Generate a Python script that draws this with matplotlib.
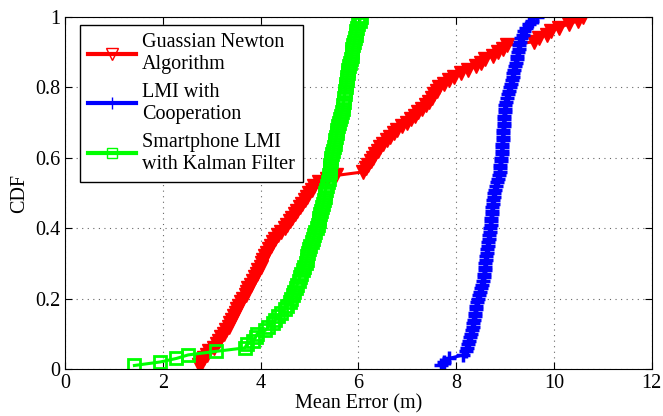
import matplotlib
matplotlib.use("Agg")
import matplotlib.pyplot as plt
from matplotlib.lines import Line2D
import numpy as np

plt.rcParams["font.family"] = ["Liberation Serif", "DejaVu Serif"]
plt.rcParams["font.size"] = 14.5

# Sorted mean-error samples (m), one per CDF step
gauss_newton = [
    2.75, 2.80, 2.85, 2.90, 2.95, 3.05, 3.10, 3.15, 3.20, 3.25,
    3.30, 3.35, 3.38, 3.42, 3.45, 3.50, 3.52, 3.55, 3.60, 3.65,
    3.70, 3.72, 3.75, 3.80, 3.85, 3.88, 3.92, 3.95, 4.00, 4.02,
    4.05, 4.10, 4.14, 4.18, 4.22, 4.26, 4.30, 4.36, 4.42, 4.50,
    4.55, 4.60, 4.65, 4.70, 4.75, 4.80, 4.85, 4.90, 4.95, 5.00,
    5.05, 5.10, 5.20, 5.35, 5.55, 6.10, 6.15, 6.20, 6.25, 6.30,
    6.35, 6.40, 6.45, 6.50, 6.58, 6.65, 6.72, 6.80, 6.90, 7.00,
    7.08, 7.15, 7.22, 7.30, 7.38, 7.45, 7.50, 7.55, 7.60, 7.65,
    7.75, 7.85, 7.95, 8.10, 8.25, 8.40, 8.50, 8.60, 8.75, 8.85,
    8.95, 9.05, 9.60, 9.70, 9.85, 9.95, 10.10, 10.30, 10.50, 10.60,
]
lmi_coop = [
    7.70, 7.75, 7.85, 8.15, 8.20, 8.22, 8.24, 8.26, 8.28, 8.30,
    8.32, 8.34, 8.35, 8.36, 8.38, 8.39, 8.40, 8.41, 8.42, 8.44,
    8.46, 8.48, 8.50, 8.52, 8.54, 8.56, 8.57, 8.58, 8.59, 8.60,
    8.61, 8.62, 8.63, 8.64, 8.65, 8.66, 8.67, 8.68, 8.69, 8.70,
    8.71, 8.72, 8.72, 8.73, 8.74, 8.74, 8.75, 8.76, 8.77, 8.78,
    8.80, 8.82, 8.84, 8.86, 8.88, 8.89, 8.90, 8.90, 8.91, 8.92,
    8.93, 8.93, 8.94, 8.94, 8.95, 8.95, 8.96, 8.96, 8.97, 8.97,
    8.98, 8.98, 8.99, 8.99, 9.00, 9.02, 9.04, 9.06, 9.08, 9.10,
    9.12, 9.14, 9.16, 9.17, 9.18, 9.20, 9.22, 9.24, 9.25, 9.26,
    9.28, 9.29, 9.30, 9.33, 9.36, 9.39, 9.42, 9.48, 9.55, 9.65,
]
smartphone_kf = [
    1.42, 1.95, 2.28, 2.52, 3.08, 3.68, 3.72, 3.85, 3.90, 3.93,
    4.10, 4.15, 4.25, 4.30, 4.36, 4.42, 4.50, 4.55, 4.60, 4.63,
    4.66, 4.69, 4.72, 4.75, 4.78, 4.80, 4.83, 4.86, 4.89, 4.92,
    4.94, 4.96, 4.98, 5.00, 5.02, 5.05, 5.08, 5.10, 5.12, 5.15,
    5.17, 5.19, 5.20, 5.22, 5.24, 5.26, 5.28, 5.30, 5.31, 5.32,
    5.33, 5.35, 5.37, 5.39, 5.40, 5.41, 5.42, 5.43, 5.44, 5.45,
    5.47, 5.49, 5.50, 5.52, 5.53, 5.55, 5.56, 5.57, 5.59, 5.60,
    5.62, 5.64, 5.66, 5.68, 5.69, 5.70, 5.71, 5.72, 5.73, 5.74,
    5.75, 5.76, 5.77, 5.78, 5.79, 5.80, 5.82, 5.84, 5.86, 5.87,
    5.88, 5.90, 5.92, 5.93, 5.95, 5.96, 5.98, 6.00, 6.03, 6.05,
]
labels = ["Guassian Newton\nAlgorithm", "LMI with\nCooperation",
          "Smartphone LMI\nwith Kalman Filter"]


def cdf(samples):
    x = np.sort(np.asarray(samples))
    return x, np.arange(1, len(x) + 1) / len(x)


def main():
    fig, ax = plt.subplots(figsize=(6.63, 4.16), dpi=100)
    fig.subplots_adjust(left=0.098, right=0.983, bottom=0.113, top=0.959)

    x, y = cdf(gauss_newton)
    ax.plot(x, y, color="red", lw=2.2, marker="v", ms=10, mfc="red",
            mec="red")
    x, y = cdf(lmi_coop)
    ax.plot(x, y, color="blue", lw=2.2, marker="+", ms=10, mew=2.5)
    x, y = cdf(smartphone_kf)
    ax.plot(x, y, color="#00ff00", lw=2.2, marker="s", ms=8, mfc="none",
            mec="#00ff00", mew=2)

    ax.set_xlim(0, 12)
    ax.set_ylim(0, 1)
    ax.set_xticks(np.arange(0, 13, 2))
    ax.set_yticks([0, 0.2, 0.4, 0.6, 0.8, 1])
    ax.set_yticklabels(["0", "0.2", "0.4", "0.6", "0.8", "1"])
    ax.tick_params(direction="in", top=True, right=True, length=5)
    ax.grid(True, linestyle=(0, (1, 4)), color="black", lw=0.8, alpha=0.6)
    ax.set_xlabel("Mean Error (m)", labelpad=1)
    ax.set_ylabel("CDF", labelpad=4)

    handles = [
        Line2D([], [], color="red", lw=3, marker="v", ms=8, mfc="none",
               mec="red", mew=1),
        Line2D([], [], color="blue", lw=3, marker="+", ms=9, mew=1),
        Line2D([], [], color="#00ff00", lw=3, marker="s", ms=7, mfc="none",
               mec="#00ff00", mew=1),
    ]
    lg = ax.legend(handles, labels, loc="upper left",
                   bbox_to_anchor=(0.025, 0.977), borderaxespad=0,
                   frameon=True, fancybox=False, handlelength=2.4,
                   handletextpad=0.3, labelspacing=0.45, borderpad=0.4)
    fr = lg.get_frame()
    fr.set_facecolor("white")
    fr.set_edgecolor("black")
    fr.set_linewidth(1.0)
    fr.set_alpha(1)

    fig.savefig("out.png", dpi=100)


if __name__ == "__main__":
    main()
